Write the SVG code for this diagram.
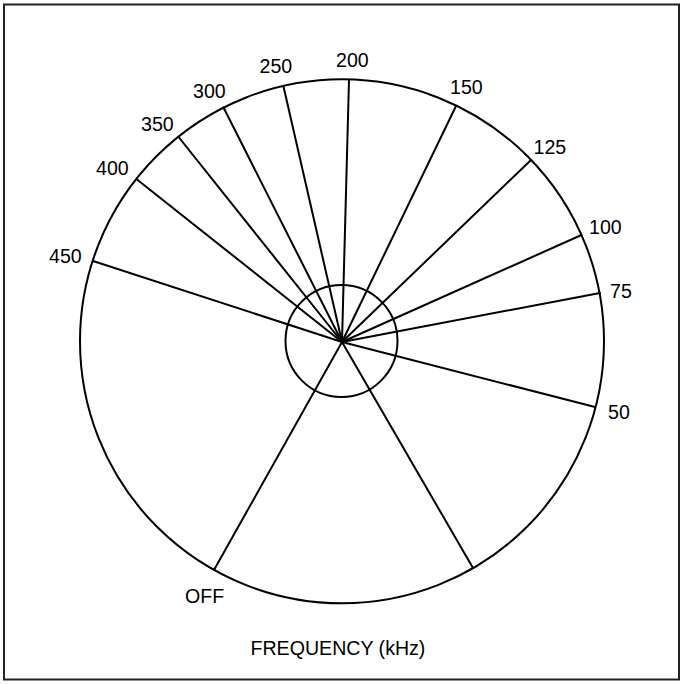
<svg xmlns="http://www.w3.org/2000/svg" width="684" height="684" viewBox="0 0 684 684">
<style>
.ln{stroke:#000;stroke-width:2;fill:none;stroke-linecap:round}
.lbl{font-family:"Liberation Sans",Arial,sans-serif;font-size:19.6px;fill:#000}
</style>
<rect x="0" y="0" width="684" height="684" fill="#fff"/>
<rect x="4" y="4.5" width="675" height="675" fill="none" stroke="#222" stroke-width="2"/>
<g id="dial">
<circle class="ln" cx="342" cy="341.3" r="262"/>
<circle class="ln" cx="341.5" cy="341" r="56"/>
</g>
<g id="connectors">
<line class="ln" x1="342" y1="342" x2="349" y2="80"/>
<line class="ln" x1="342" y1="342" x2="456" y2="106"/>
<line class="ln" x1="342" y1="342" x2="531" y2="160"/>
<line class="ln" x1="342" y1="342" x2="581.5" y2="235"/>
<line class="ln" x1="342" y1="342" x2="600" y2="293"/>
<line class="ln" x1="342" y1="342" x2="595" y2="407"/>
<line class="ln" x1="342" y1="342" x2="473" y2="568"/>
<line class="ln" x1="342" y1="342" x2="214" y2="570"/>
<line class="ln" x1="342" y1="342" x2="93" y2="261"/>
<line class="ln" x1="342" y1="342" x2="137" y2="179.5"/>
<line class="ln" x1="342" y1="342" x2="179" y2="137.5"/>
<line class="ln" x1="342" y1="342" x2="223.5" y2="107.5"/>
<line class="ln" x1="342" y1="342" x2="283.5" y2="86.5"/>
</g>
<g id="labels">
<text class="lbl" x="49" y="263">450</text>
<text class="lbl" x="96" y="174.5">400</text>
<text class="lbl" x="141" y="131">350</text>
<text class="lbl" x="193" y="97.5">300</text>
<text class="lbl" x="259.5" y="73">250</text>
<text class="lbl" x="336" y="66.5">200</text>
<text class="lbl" x="450" y="93.5">150</text>
<text class="lbl" x="533.5" y="153.5">125</text>
<text class="lbl" x="589" y="233.5">100</text>
<text class="lbl" x="610" y="297.5">75</text>
<text class="lbl" x="608" y="418.5">50</text>
<text class="lbl" x="185" y="603">OFF</text>
<text class="lbl" x="250.5" y="655">FREQUENCY (kHz)</text>
</g>
</svg>
